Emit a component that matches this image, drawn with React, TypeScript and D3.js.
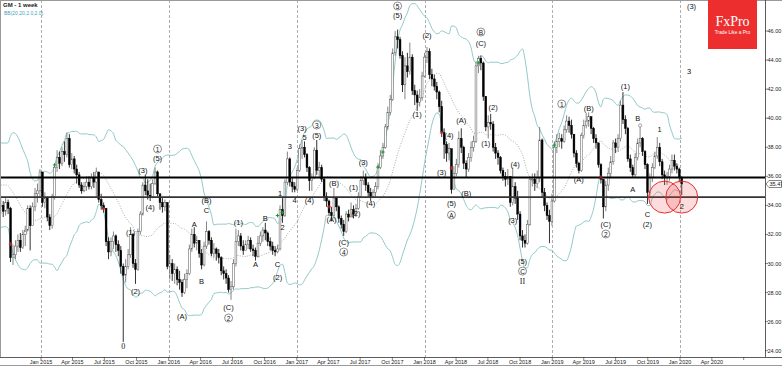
import React, { useMemo } from 'react';
import * as d3 from 'd3';

const W = 782;
const H = 366;

// weekly bars, the first one is the week of 8 Sep 2014
const closes = [
  34.0, 33.6, 34.2, 33.8, 30.4, 30.6, 31.2, 31.6, 31.1, 32.0, 32.3, 33.8, 32.6, 33.9, 34.8, 35.0, 36.3, 34.2, 34.5, 33.2,
  32.6, 34.6, 36.6, 37.3, 36.9, 37.7, 37.5, 38.6, 36.8, 37.2, 36.5, 36.1, 35.4, 35.0, 35.3, 35.6, 35.3, 35.9, 35.6, 36.3,
  34.4, 34.0, 33.8, 31.5, 30.8, 31.5, 31.9, 31.3, 30.9, 29.8, 29.2, 29.8, 30.6, 32.0, 30.0, 29.6, 32.2, 33.4, 35.4, 35.0,
  34.7, 34.6, 35.5, 36.3, 34.8, 34.2, 33.9, 34.2, 29.8, 30.0, 29.3, 29.6, 28.9, 28.7, 28.0, 28.9, 29.3, 31.0, 32.0, 31.4,
  31.6, 30.7, 29.9, 31.2, 32.2, 31.6, 30.7, 31.0, 30.7, 30.4, 29.5, 29.3, 29.0, 28.2, 28.4, 30.0, 31.5, 31.9, 31.2, 30.9,
  31.3, 31.6, 31.0, 30.9, 30.5, 31.4, 31.9, 32.3, 32.1, 31.5, 31.2, 30.9, 30.8, 31.0, 33.7, 33.3, 35.6, 37.2, 35.6, 35.3,
  35.1, 36.4, 37.9, 38.0, 37.5, 36.6, 35.7, 35.9, 37.8, 36.4, 36.6, 35.8, 34.6, 34.3, 33.5, 33.3, 34.5, 33.9, 33.1, 32.7,
  32.2, 33.4, 33.2, 33.7, 33.4, 33.8, 34.6, 35.7, 35.9, 35.4, 34.9, 34.6, 34.9, 35.3, 36.6, 37.4, 38.0, 39.4, 40.4, 41.3,
  44.5, 45.6, 45.4, 44.3, 42.3, 43.6, 43.2, 44.2, 41.9, 41.6, 41.1, 41.4, 42.9, 44.2, 44.6, 43.0, 42.7, 42.2, 41.8, 40.8,
  39.0, 38.2, 37.6, 37.9, 35.1, 36.2, 36.8, 38.6, 38.0, 36.9, 36.5, 37.3, 38.0, 38.4, 43.6, 44.1, 43.8, 41.5, 39.4, 39.7,
  39.6, 38.0, 37.6, 37.3, 36.4, 36.0, 35.8, 36.0, 34.2, 35.3, 34.5, 33.4, 31.9, 31.6, 31.4, 32.7, 35.8, 35.8, 35.5, 35.9,
  38.5, 34.9, 34.0, 33.3, 32.9, 34.3, 38.0, 38.4, 38.6, 38.4, 39.2, 39.8, 39.5, 38.9, 37.6, 36.9, 36.4, 38.8, 39.5, 39.8,
  40.1, 39.3, 38.6, 38.3, 36.8, 35.8, 33.9, 35.4, 36.2, 37.0, 38.3, 38.0, 38.6, 40.9, 39.9, 39.3, 37.2, 36.6, 36.1, 37.3,
  38.3, 38.6, 37.7, 36.8, 34.9, 35.9, 36.6, 37.4, 38.0, 37.0, 36.1, 35.9, 36.0, 36.5, 37.1, 36.7, 36.5, 35.9, 35.47,
];
const highs = [
  34.6, 34.3, 34.5, 34.4, 33.9, 31.3, 31.6, 32.0, 32.1, 32.3, 32.6, 34.0, 34.0, 34.2, 35.2, 35.5, 36.5, 36.2, 34.9, 34.6,
  33.4, 34.8, 36.9, 37.8, 37.7, 38.0, 38.4, 39.0, 38.9, 37.6, 37.4, 36.8, 36.3, 35.6, 35.6, 36.0, 36.0, 36.2, 36.3, 36.6,
  36.3, 34.8, 34.2, 33.8, 31.8, 31.8, 32.2, 32.0, 31.6, 31.2, 30.0, 30.3, 31.0, 32.5, 32.1, 30.3, 32.4, 33.6, 35.6, 36.1,
  35.8, 35.5, 35.8, 36.6, 36.4, 34.8, 34.5, 34.4, 34.2, 30.6, 30.3, 30.0, 29.8, 29.5, 28.9, 29.3, 29.6, 31.3, 32.4, 32.5,
  31.9, 31.6, 31.0, 31.5, 32.9, 32.3, 31.8, 31.4, 31.1, 31.0, 30.5, 29.8, 29.6, 29.2, 28.8, 30.3, 32.4, 32.3, 32.1, 31.6,
  31.6, 31.9, 31.8, 31.3, 31.1, 31.9, 32.2, 32.5, 32.8, 32.2, 31.8, 31.5, 31.2, 31.3, 34.0, 34.5, 35.8, 37.7, 37.3, 35.9,
  35.6, 36.6, 38.2, 38.5, 38.4, 37.6, 36.7, 36.2, 38.0, 38.5, 37.0, 36.8, 35.9, 34.9, 34.4, 33.9, 35.2, 34.6, 34.0, 33.3,
  33.0, 33.6, 33.7, 34.2, 34.0, 34.1, 34.9, 36.0, 36.4, 36.2, 35.6, 35.2, 35.1, 35.6, 36.9, 37.8, 38.3, 39.6, 40.8, 41.6,
  44.8, 46.0, 46.1, 45.6, 44.6, 44.2, 44.5, 45.2, 44.4, 42.3, 41.9, 42.0, 43.2, 44.5, 44.9, 44.8, 43.4, 43.0, 42.5, 41.9,
  41.2, 39.3, 38.4, 38.3, 37.0, 36.7, 37.2, 39.1, 39.3, 38.1, 37.1, 37.6, 38.4, 38.8, 43.9, 44.3, 44.3, 43.9, 41.5, 40.2,
  40.3, 39.8, 38.3, 37.8, 37.4, 36.6, 36.3, 36.5, 36.0, 36.6, 35.6, 35.0, 33.6, 32.3, 32.0, 33.0, 36.0, 36.2, 36.2, 36.4,
  39.4, 38.6, 35.2, 34.2, 33.7, 34.8, 38.4, 38.9, 39.0, 38.9, 39.5, 40.2, 40.1, 39.9, 38.9, 37.8, 37.0, 39.0, 39.9, 40.35,
  40.4, 40.1, 39.4, 38.9, 38.3, 36.9, 35.8, 35.7, 36.6, 37.4, 38.5, 38.6, 38.9, 41.2, 41.8, 40.2, 39.4, 37.5, 36.8, 37.6,
  38.6, 39.5, 38.7, 37.8, 36.9, 36.2, 36.9, 37.7, 38.7, 38.3, 37.2, 36.4, 36.3, 36.8, 37.5, 37.5, 36.9, 36.6, 36.0,
];
const lows = [
  33.4, 33.2, 33.3, 33.4, 30.1, 29.9, 30.3, 30.8, 30.8, 31.0, 31.2, 32.2, 30.9, 32.6, 33.6, 34.2, 34.6, 33.9, 33.8, 32.9,
  32.3, 32.4, 34.4, 36.3, 36.5, 36.7, 37.0, 37.3, 36.6, 36.5, 36.2, 35.5, 35.2, 34.8, 34.9, 35.0, 35.1, 35.1, 35.2, 34.6,
  34.2, 33.7, 33.5, 31.2, 30.3, 30.5, 31.0, 30.8, 30.5, 29.3, 24.6, 28.7, 29.6, 30.4, 29.7, 28.6, 29.5, 32.0, 33.3, 34.7,
  34.4, 34.3, 34.5, 35.4, 34.6, 33.7, 33.5, 33.6, 29.6, 28.9, 28.8, 28.6, 28.5, 28.2, 27.7, 27.9, 28.3, 29.2, 30.8, 31.1,
  30.9, 30.4, 29.6, 29.8, 31.0, 31.3, 30.5, 30.4, 30.2, 30.0, 29.2, 28.9, 28.6, 28.0, 27.5, 28.2, 29.8, 31.2, 30.9, 30.6,
  30.9, 31.0, 30.8, 30.5, 30.2, 30.4, 31.2, 31.5, 31.6, 31.2, 30.9, 30.6, 30.5, 30.7, 30.9, 32.8, 33.2, 35.4, 35.3, 34.9,
  34.9, 35.0, 36.3, 37.2, 37.3, 36.3, 35.0, 35.0, 35.8, 36.1, 35.9, 35.6, 34.3, 33.9, 33.3, 32.9, 33.1, 33.6, 32.8, 32.4,
  31.9, 32.1, 32.9, 33.2, 33.1, 33.2, 33.7, 34.5, 35.4, 35.0, 34.6, 34.3, 34.5, 34.6, 35.1, 36.5, 37.2, 37.9, 39.2, 40.2,
  41.2, 44.3, 44.8, 44.1, 41.8, 41.3, 42.8, 43.0, 41.6, 40.9, 40.5, 40.8, 41.2, 42.8, 43.8, 42.7, 42.2, 41.9, 41.3, 40.4,
  38.7, 37.2, 37.0, 37.1, 34.8, 35.3, 36.0, 36.6, 37.6, 36.5, 35.9, 36.3, 37.0, 37.7, 38.3, 43.1, 43.3, 41.2, 39.1, 38.6,
  39.2, 37.7, 37.2, 36.8, 36.2, 35.7, 35.3, 35.4, 33.9, 34.0, 34.1, 33.0, 31.6, 31.1, 31.1, 31.3, 32.6, 35.3, 35.0, 35.2,
  35.6, 34.5, 33.6, 33.0, 31.4, 32.6, 34.2, 37.6, 38.0, 37.9, 38.3, 39.0, 39.0, 38.6, 37.3, 36.6, 36.2, 36.3, 38.6, 39.3,
  39.4, 38.9, 38.3, 37.9, 36.6, 35.5, 33.1, 33.6, 35.0, 35.9, 36.8, 37.6, 37.7, 38.4, 39.6, 38.9, 37.0, 36.3, 35.9, 35.9,
  37.1, 38.0, 37.4, 36.5, 34.1, 34.6, 35.6, 36.5, 37.2, 36.7, 35.8, 35.4, 35.4, 35.7, 36.2, 36.4, 36.2, 35.6, 34.7,
];
// 19 closes before the first bar, only used to seed the bands
const preCloses = [33.4, 34.1, 34.6, 35.2, 35.8, 36.6, 37.1, 37.6, 37.3, 36.5, 36.9, 37.5, 36.3, 35.4, 34.8, 34.1, 33.6, 33.2, 33.9];

const levels = [35.92, 34.57];
const priceTicks = [24, 26, 28, 30, 32, 34, 36, 38, 40, 42, 44, 46];
const lastPrice = 35.47;
const yearLines = ['2015', '2016', '2017', '2018', '2019', '2020'];
const quarterLabels = [
  'Jan 2015', 'Apr 2015', 'Jul 2015', 'Oct 2015', 'Jan 2016', 'Apr 2016', 'Jul 2016', 'Oct 2016',
  'Jan 2017', 'Apr 2017', 'Jul 2017', 'Oct 2017', 'Jan 2018', 'Apr 2018', 'Jul 2018', 'Oct 2018',
  'Jan 2019', 'Apr 2019', 'Jul 2019', 'Oct 2019', 'Jan 2020', 'Apr 2020',
];

// wave count: [bar, price, text]
const waves: [number, number, string][] = [
  [50, 24.32, '0'], [53, 32.1, '(1)'], [55, 28.04, '(2)'], [58, 36.43, '(3)'], [61, 33.82, '(4)'],
  [64, 37.26, '(5)'], [64, 37.88, '①'],
  [74, 26.32, '(A)'], [79, 32.65, 'A'], [82, 28.73, 'B'], [84, 34.37, '(B)'], [84, 33.68, 'C'],
  [93, 26.94, '(C)'], [93, 26.25, '②'], [97, 32.85, '(1)'], [104, 29.9, 'A'], [108, 33.13, 'B'],
  [113, 29.9, 'C'], [113, 29.07, '(2)'], [114, 34.85, '1'], [115, 32.5, '2'], [118, 38.02, '3'],
  [120, 34.37, '4'], [123, 39.32, '(3)'], [124, 38.64, '5'], [126, 34.37, '(4)'],
  [129, 39.53, '③'], [129, 38.84, '(5)'], [135, 33.06, '(A)'], [136, 35.54, '(B)'],
  [140, 31.48, '(C)'], [140, 30.79, '④'], [144, 35.2, '(1)'], [145, 33.47, '(2)'],
  [148, 36.92, '(3)'], [151, 34.16, '(4)'], [162, 47.72, '⑤'], [162, 47.1, '(5)'],
  [170, 40.22, '(1)'], [174, 45.72, '(2)'], [180, 36.23, '(3)'], [183, 38.84, '(4)'],
  [184, 34.1, '(5)'], [184, 33.34, 'Ⓐ'], [188, 39.87, '(A)'], [190, 34.85, '(B)'],
  [196, 45.93, 'Ⓑ'], [196, 45.17, '(C)'], [198, 38.29, '(1)'], [201, 40.77, '(2)'],
  [209, 32.99, '(3)'], [210, 36.78, '(4)'], [213, 30.17, '(5)'], [213, 29.48, 'Ⓒ'], [213, 28.73, 'II'],
  [229, 40.98, '①'], [236, 35.81, '(A)'], [240, 40.7, '(B)'], [247, 32.65, '(C)'], [247, 32.03, '②'],
  [255, 42.15, '(1)'], [258, 35.06, 'A'], [260, 40.01, 'B'], [264, 33.34, 'C'], [264, 32.65, '(2)'],
  [269, 39.19, '1'], [278, 33.89, '2'], [281, 43.18, '3'], [282, 47.72, '(3)'],
];
const signals: [number, number, string][] = [
  [4, 31.34, 'red'], [22, 36.78, 'green'], [42, 33.75, 'red'], [113, 33.3, 'green'], [115, 33.5, 'green'],
  [134, 33.9, 'red'], [154, 36.64, 'green'], [156, 37.67, 'green'], [180, 38.98, 'red'], [184, 36.57, 'red'],
  [195, 43.8, 'green'], [226, 38.15, 'green'], [245, 35.95, 'red'],
];
const dots: [number, number][] = [[10, 32.1], [261, 39.5]];
const rings: [number, number][] = [[271, 34.57], [278, 34.57]];

const circled: Record<string, string> = {
  '①': '1', '②': '2', '③': '3', '④': '4', '⑤': '5', 'Ⓐ': 'A', 'Ⓑ': 'B', 'Ⓒ': 'C',
};

const FONT = '"Liberation Sans", Arial, sans-serif';
const WEEK = 7 * 24 * 3600 * 1000;
const barDate = (i: number) => new Date(Date.UTC(2014, 8, 8) + i * WEEK);

export default function App() {
  const right = 765;
  const bottom = 357;

  const x = d3.scaleUtc()
    .domain([new Date(Date.UTC(2015, 0, 1)), new Date(Date.UTC(2020, 0, 1))])
    .range([41, 680]);
  const y = d3.scaleLinear().domain([24, 46]).range([350.7, 31]);

  const bands = useMemo(() => {
    const all = preCloses.concat(closes);
    return closes.map((_, i) => {
      const win = all.slice(i, i + 20);
      const m = d3.mean(win) as number;
      const sd = Math.sqrt(d3.mean(win, v => (v - m) * (v - m)) as number);
      return { i, mid: m, up: m + 2 * sd, lo: m - 2 * sd };
    });
  }, []);

  const line = (key: 'mid' | 'up' | 'lo') =>
    d3.line<{ i: number; mid: number; up: number; lo: number }>()
      .x(d => x(barDate(d.i)))
      .y(d => y(d[key]))
      .curve(d3.curveMonotoneX)(bands) || '';

  const parseQ = d3.utcParse('%b %Y');
  const quarterTicks = quarterLabels.concat(['Jul 2020']);

  return (
    <svg width={W} height={H} style={{ position: 'absolute', left: 0, top: 0, background: '#fff' }}>
      <defs>
        <clipPath id="plot">
          <rect x={0} y={1} width={right} height={bottom - 1} />
        </clipPath>
      </defs>
      <rect x={0} y={0} width={W} height={H} fill="#fff" />

      <g clipPath="url(#plot)">
        {yearLines.map(yr => {
          const px = Math.round(x(new Date(Date.UTC(+yr, 0, 1)))) + 0.5;
          return <line key={yr} x1={px} x2={px} y1={0} y2={bottom} stroke="#9a9a9a" strokeWidth={0.8} strokeDasharray="3 2" />;
        })}

        <path d={line('up')} fill="none" stroke="#86c2c2" strokeWidth={0.9} />
        <path d={line('lo')} fill="none" stroke="#86c2c2" strokeWidth={0.9} />
        <path d={line('mid')} fill="none" stroke="#8a8a8a" strokeWidth={0.7} strokeDasharray="1 1.5" />

        {closes.map((c, i) => {
          const o = i === 0 ? preCloses[preCloses.length - 1] : closes[i - 1];
          const cx = x(barDate(i));
          const top = y(Math.max(o, c));
          const h = Math.max(0.8, Math.abs(y(o) - y(c)));
          const bull = c >= o;
          return (
            <g key={i}>
              <line x1={cx} x2={cx} y1={y(highs[i])} y2={y(lows[i])} stroke={bull ? '#666' : '#000'} strokeWidth={0.8} />
              <rect x={cx - 0.9} y={top} width={1.8} height={h}
                fill={bull ? '#fff' : '#000'} stroke={bull ? '#555' : '#000'} strokeWidth={0.5} />
            </g>
          );
        })}

        {levels.map((lv, k) => (
          <line key={lv} x1={0} x2={right} y1={y(lv)} y2={y(lv)} stroke={k === 0 ? '#000' : '#333'} strokeWidth={1.8} />
        ))}

        {rings.map(([i, v], k) => (
          <circle key={k} cx={x(barDate(i))} cy={y(v)} r={16} fill="rgba(240,60,60,0.18)" stroke="#e83030" strokeWidth={1} />
        ))}

        {signals.map(([i, v, col], k) => {
          const cx = x(barDate(i));
          const cy = y(v);
          const c = col === 'red' ? '#d42020' : '#1a9a2a';
          return (
            <g key={k} stroke={c} strokeWidth={1}>
              <line x1={cx - 1.8} x2={cx + 1.8} y1={cy} y2={cy} />
              <line x1={cx} x2={cx} y1={cy - 1.8} y2={cy + 1.8} />
            </g>
          );
        })}
        {dots.map(([i, v], k) => (
          <circle key={k} cx={x(barDate(i))} cy={y(v)} r={1.6} fill="#fff" stroke="#666" strokeWidth={0.6} />
        ))}

        {waves.map(([i, v, t], k) => {
          const cx = x(barDate(i));
          const cy = y(v);
          if (circled[t]) {
            return (
              <g key={k}>
                <circle cx={cx} cy={cy} r={4} fill="#fff" stroke="#444" strokeWidth={0.6} />
                <text x={cx} y={cy + 0.3} textAnchor="middle" dominantBaseline="central"
                  fontFamily={FONT} fontSize={6.5} fill="#111">{circled[t]}</text>
              </g>
            );
          }
          return (
            <text key={k} x={cx} y={cy} textAnchor="middle" dominantBaseline="central"
              fontFamily={t === 'II' || t === '0' ? '"Liberation Serif", serif' : FONT}
              fontSize={t === 'II' || t === '0' ? 8 : 7.5} fill="#111">{t}</text>
          );
        })}
      </g>

      {/* frame and axes */}
      <line x1={0} x2={W} y1={0.5} y2={0.5} stroke="#9a9a9a" />
      <line x1={0.5} x2={0.5} y1={0} y2={bottom} stroke="#9a9a9a" />
      <line x1={right + 0.5} x2={right + 0.5} y1={0} y2={bottom} stroke="#333" strokeWidth={0.8} />
      <line x1={0} x2={W} y1={bottom + 0.5} y2={bottom + 0.5} stroke="#333" strokeWidth={0.8} />
      <line x1={0} x2={W} y1={H - 0.5} y2={H - 0.5} stroke="#9a9a9a" />

      {priceTicks.map(v => (
        <g key={v}>
          <line x1={right} x2={right + 3} y1={y(v)} y2={y(v)} stroke="#333" strokeWidth={0.6} />
          <text x={right + 2.5} y={y(v)} dominantBaseline="central" fontFamily={FONT} fontSize={5.5} fill="#222">
            {v.toFixed(2)}
          </text>
        </g>
      ))}
      <path
        d={`M${right + 1},${y(lastPrice)} L${right + 4},${y(lastPrice) - 3.5} L${W - 0.5},${y(lastPrice) - 3.5} L${W - 0.5},${y(lastPrice) + 3.5} L${right + 4},${y(lastPrice) + 3.5} Z`}
        fill="#fff" stroke="#333" strokeWidth={0.6} />
      <text x={right + 4.5} y={y(lastPrice) + 0.3} dominantBaseline="central" fontFamily={FONT} fontSize={5.5} fill="#111">
        {lastPrice.toFixed(2)}
      </text>

      {quarterTicks.map(q => {
        const px = x(parseQ(q) as Date);
        return <line key={q} x1={px} x2={px} y1={bottom} y2={bottom + 3} stroke="#333" strokeWidth={0.6} />;
      })}
      {quarterLabels.map(q => (
        <text key={q} x={x(parseQ(q) as Date)} y={362} textAnchor="middle" dominantBaseline="central"
          fontFamily={FONT} fontSize={5.5} fill="#222">{q}</text>
      ))}

      {/* header */}
      <text x={3} y={5} dominantBaseline="central" fontFamily={FONT} fontSize={6} fontWeight="bold" fill="#222">GM - 1 week</text>
      <text x={4} y={12.5} dominantBaseline="central" fontFamily={FONT} fontSize={5} fill="#4aa3b8">BB(20,20,2.0,2.0)</text>

      {/* logo */}
      <rect x={708} y={0} width={49} height={49} fill="#ec2e2e" />
      <text x={732.5} y={26} textAnchor="middle" fontFamily='"Liberation Serif", serif' fontSize={14} fill="#fff">FxPro</text>
      <text x={732.5} y={33.5} textAnchor="middle" fontFamily={FONT} fontSize={4.8} fill="#fff">Trade Like a Pro</text>
    </svg>
  );
}
